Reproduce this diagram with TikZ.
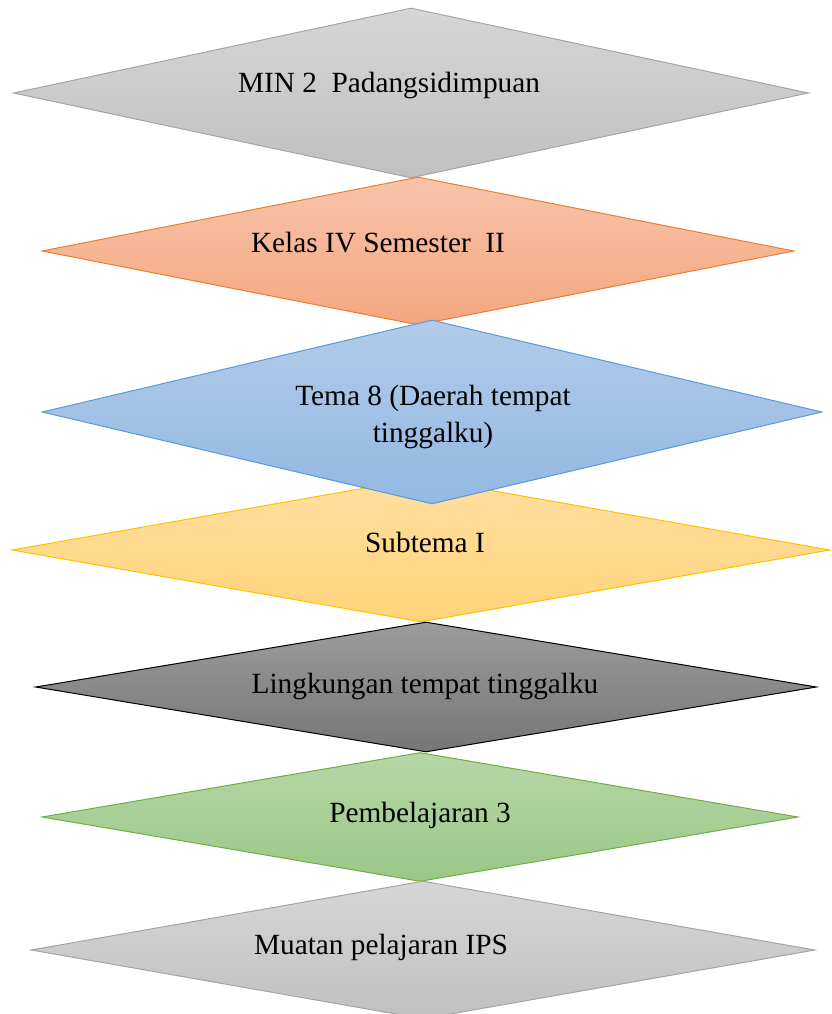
\documentclass[tikz,border=0pt]{standalone}
\usepackage{fontspec}
\setmainfont{Liberation Serif}
\usetikzlibrary{shapes.geometric}
\definecolor{dm_gray_top}{RGB}{214, 214, 214}
\definecolor{dm_gray_bot}{RGB}{192, 192, 192}
\definecolor{dm_gray_line}{RGB}{165, 165, 165}
\definecolor{dm_orange_top}{RGB}{248, 196, 170}
\definecolor{dm_orange_bot}{RGB}{244, 166, 128}
\definecolor{dm_orange_line}{RGB}{237, 125, 49}
\definecolor{dm_blue_top}{RGB}{178, 203, 233}
\definecolor{dm_blue_bot}{RGB}{147, 184, 226}
\definecolor{dm_blue_line}{RGB}{91, 155, 213}
\definecolor{dm_yellow_top}{RGB}{255, 223, 160}
\definecolor{dm_yellow_bot}{RGB}{255, 212, 122}
\definecolor{dm_yellow_line}{RGB}{255, 192, 0}
\definecolor{dm_dark_top}{RGB}{156, 156, 156}
\definecolor{dm_dark_bot}{RGB}{118, 118, 118}
\definecolor{dm_green_top}{RGB}{182, 215, 167}
\definecolor{dm_green_bot}{RGB}{154, 199, 135}
\definecolor{dm_green_line}{RGB}{112, 173, 71}
\tikzstyle{dm}=[diamond,line width=1pt,inner sep=0pt]
\tikzstyle{gd}=[dm,draw=dm_gray_line,top color=dm_gray_top,bottom color=dm_gray_bot]
\tikzstyle{od}=[dm,draw=dm_orange_line,top color=dm_orange_top,bottom color=dm_orange_bot]
\tikzstyle{bd}=[dm,draw=dm_blue_line,top color=dm_blue_top,bottom color=dm_blue_bot]
\tikzstyle{yd}=[dm,draw=dm_yellow_line,top color=dm_yellow_top,bottom color=dm_yellow_bot]
\tikzstyle{kd}=[dm,draw=black,top color=dm_dark_top,bottom color=dm_dark_bot]
\tikzstyle{vd}=[dm,draw=dm_green_line,top color=dm_green_top,bottom color=dm_green_bot]
\tikzstyle{txt}=[inner sep=0pt,align=center,font=\fontsize{29.3}{37}\selectfont]

\begin{document}
\begin{tikzpicture}[x=1pt,y=-1pt]
            \useasboundingbox (0, 0) rectangle (832, 1014);
            \node [style=gd, minimum width=795, minimum height=170] (0) at (411, 93) {};
            \node [style=od, minimum width=752, minimum height=148] (1) at (418, 251) {};
            \node [style=yd, minimum width=818, minimum height=144] (2) at (421, 550) {};
            \node [style=bd, minimum width=780, minimum height=184] (3) at (432, 412) {};
            \node [style=kd, minimum width=781, minimum height=130] (4) at (426, 687) {};
            \node [style=vd, minimum width=756, minimum height=129] (5) at (420, 817) {};
            \node [style=gd, minimum width=784, minimum height=138] (6) at (423, 950) {};
            \node [style=txt, anchor=base] (7) at (389, 93) {MIN 2~ Padangsidimpuan};
            \node [style=txt, anchor=base] (8) at (378, 252) {Kelas IV Semester~ II};
            \node [style=txt] (9) at (433, 417) {Tema 8 (Daerah tempat\\tinggalku)};
            \node [style=txt, anchor=base] (10) at (425, 552) {Subtema I};
            \node [style=txt, anchor=base] (11) at (425, 693) {Lingkungan tempat tinggalku};
            \node [style=txt, anchor=base] (12) at (420, 822) {Pembelajaran 3};
            \node [style=txt, anchor=base] (13) at (381, 954) {Muatan pelajaran IPS};
\end{tikzpicture}
\end{document}
